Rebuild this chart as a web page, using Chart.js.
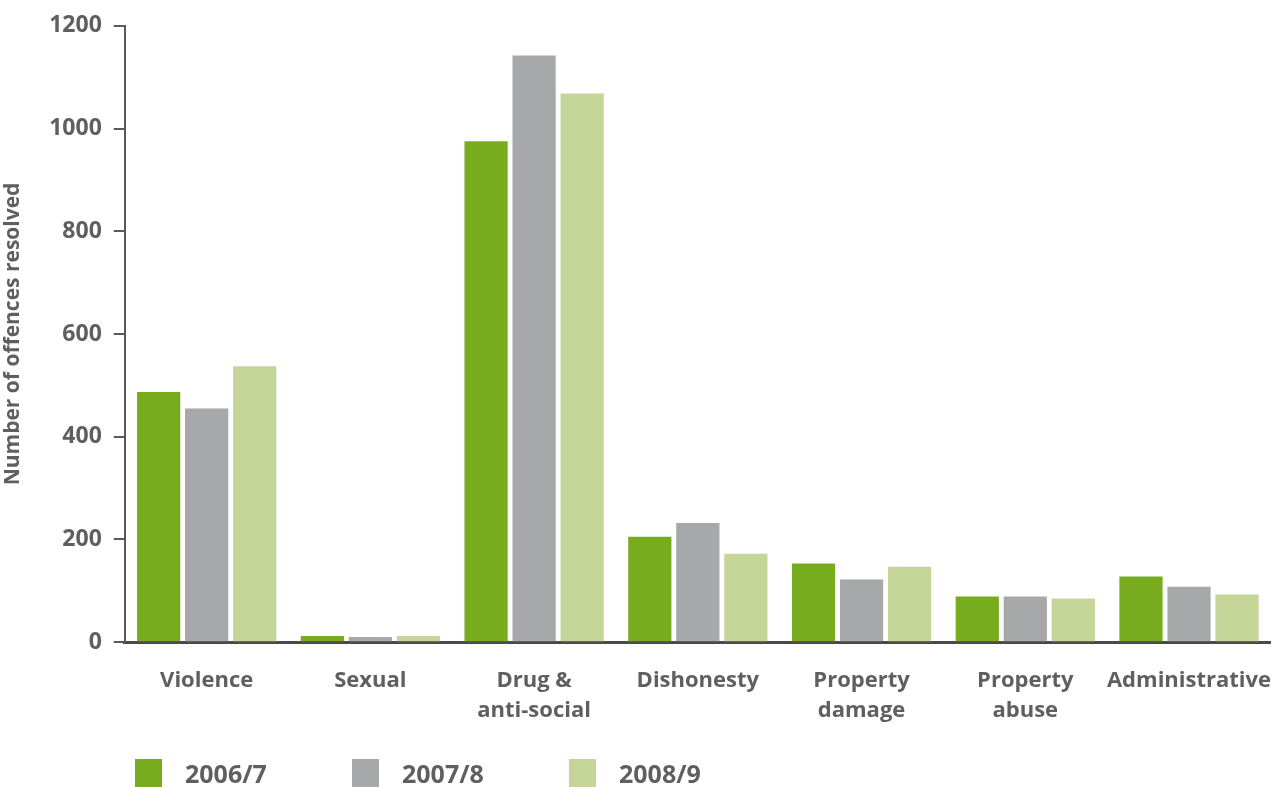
<!DOCTYPE html>
<html>
<head>
<meta charset="utf-8">
<script src="https://cdn.jsdelivr.net/npm/chart.js@4/dist/chart.umd.min.js"></script>
<style>
    html, body { margin: 0; padding: 0; background: #fff; }
    #wrap { position: relative; width: 1288px; height: 787px; }
    #legend { position: absolute; left: 135px; top: 756px; display: flex; font: bold 25px "Open Sans", sans-serif; color: #5f5f5f; }
    #legend .item { display: flex; align-items: center; width: 217px; }
    #legend .box { width: 27px; height: 29px; margin-right: 23px; }
</style>
</head>
<body>
<div id="wrap">
    <canvas id="chart" width="1288" height="787"></canvas>
    <div id="legend"></div>
</div>
<script>
const categories = ["Violence", "Sexual", ["Drug &", "anti-social"], "Dishonesty", ["Property", "damage"], ["Property", "abuse"], "Administrative"]
const seriesNames = ["2006/7", "2007/8", "2008/9"]
const values2006 = [487, 12, 975, 205, 153, 89, 128]
const values2007 = [455, 10, 1142, 232, 122, 89, 108]
const values2008 = [537, 12, 1068, 172, 147, 85, 93]
const yTicks = [0, 200, 400, 600, 800, 1000, 1200]

const colors = ["#78ac1f", "#a7a8aa", "#c4d597"]
const textColor = "#5f5f5f"
const font = "'Open Sans', sans-serif"

const series = [values2006, values2007, values2008]

const datasets = seriesNames.map((label, i) => ({
    label,
    data: series[i],
    backgroundColor: colors[i],
    borderWidth: 0,
    categoryPercentage: 0.88,
    barPercentage: 0.9
}))

const ctx = document.getElementById("chart").getContext("2d")

new Chart(ctx, {
    type: "bar",
    data: { labels: categories, datasets },
    options: {
        responsive: false,
        animation: false,
        layout: { padding: { top: 4, right: 13, bottom: 45, left: 0 } },
        scales: {
            x: {
                grid: { display: false },
                border: { display: true, color: "#4a4a4a", width: 3 },
                ticks: {
                    color: textColor,
                    font: { family: font, size: 22, weight: "bold", lineHeight: 1.36 },
                    padding: 16,
                    maxRotation: 0,
                    autoSkip: false
                }
            },
            y: {
                min: 0,
                max: 1200,
                afterBuildTicks: axis => { axis.ticks = yTicks.map(v => ({ value: v })) },
                grid: { drawOnChartArea: false, drawTicks: true, tickLength: 11, color: "#5a5a5a", lineWidth: 2 },
                border: { display: true, color: "#5a5a5a", width: 2 },
                ticks: {
                    color: textColor,
                    font: { family: font, size: 23, weight: "bold" },
                    padding: 12,
                    callback: value => String(value)
                },
                title: {
                    display: true,
                    text: "Number of offences resolved",
                    color: textColor,
                    font: { family: font, size: 21, weight: "bold" },
                    padding: { top: 0, bottom: 12 }
                }
            }
        },
        plugins: {
            legend: { display: false },
            tooltip: { enabled: false }
        }
    }
})

const legendEl = document.getElementById("legend")
seriesNames.forEach((name, i) => {
    const item = document.createElement("div")
    item.className = "item"
    const box = document.createElement("span")
    box.className = "box"
    box.style.background = colors[i]
    item.appendChild(box)
    item.appendChild(document.createTextNode(name))
    legendEl.appendChild(item)
})
</script>
</body>
</html>
